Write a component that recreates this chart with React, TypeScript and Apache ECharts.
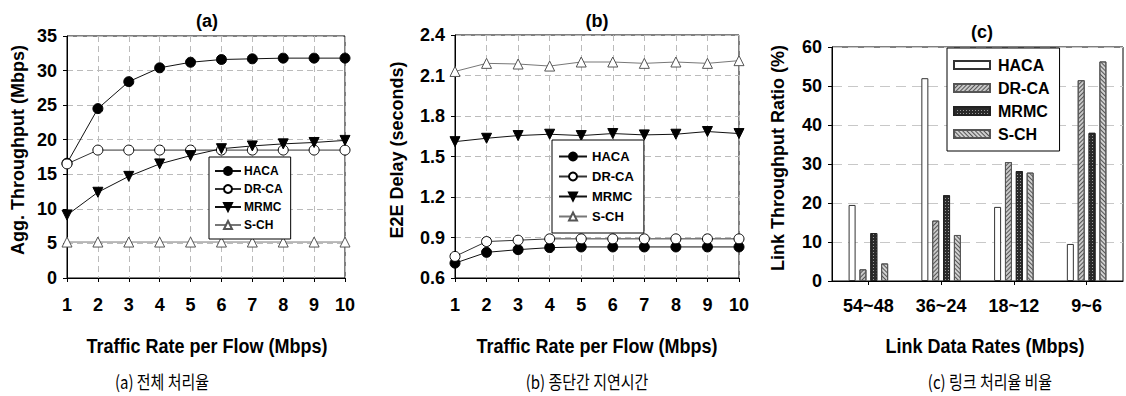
import React, { useEffect, useRef } from "react";
import * as echarts from "echarts";

// ---- data ----
const rates = ["1", "2", "3", "4", "5", "6", "7", "8", "9", "10"];
const thrHACA = [16.6, 24.5, 28.4, 30.4, 31.2, 31.6, 31.7, 31.8, 31.8, 31.8];
const thrDRCA = [16.5, 18.5, 18.5, 18.5, 18.5, 18.5, 18.5, 18.5, 18.5, 18.5];
const thrMRMC = [9.1, 12.4, 14.7, 16.5, 17.7, 18.7, 19.1, 19.4, 19.6, 19.9];
const thrSCH = [5.2, 5.2, 5.2, 5.2, 5.2, 5.2, 5.2, 5.2, 5.2, 5.2];

const delayHACA = [0.71, 0.79, 0.81, 0.825, 0.83, 0.83, 0.83, 0.83, 0.83, 0.83];
const delayDRCA = [0.76, 0.87, 0.88, 0.89, 0.89, 0.89, 0.89, 0.89, 0.89, 0.89];
const delayMRMC = [1.61, 1.635, 1.655, 1.665, 1.655, 1.67, 1.66, 1.665, 1.685, 1.67];
const delaySCH = [2.13, 2.19, 2.185, 2.17, 2.2, 2.2, 2.19, 2.2, 2.19, 2.21];

const linkRates = ["54~48", "36~24", "18~12", "9~6"];
const ratioHACA = [19.5, 52, 19, 9.5];
const ratioDRCA = [3, 15.5, 30.5, 51.5];
const ratioMRMC = [12.3, 22, 28.2, 38];
const ratioSCH = [4.5, 11.8, 27.8, 56.3];

const schemes = ["HACA", "DR-CA", "MRMC", "S-CH"];

const FONT = '"Liberation Sans", Arial, sans-serif';
const KFONT = '"Noto Sans CJK KR", sans-serif';

const lineStyles: Record<string, any> = {
  "HACA": { symbol: "circle", rotate: 0, fill: "#000", border: "#000", line: "#111" },
  "DR-CA": { symbol: "circle", rotate: 0, fill: "#fff", border: "#000", line: "#333" },
  "MRMC": { symbol: "triangle", rotate: 180, fill: "#000", border: "#000", line: "#111" },
  "S-CH": { symbol: "triangle", rotate: 0, fill: "#fff", border: "#555", line: "#777" },
};

function lineSeries(prefix: string, name: string, data: number[], idx: number) {
  const s = lineStyles[name];
  return {
    type: "line",
    name: prefix + ":" + name,
    data,
    xAxisIndex: idx,
    yAxisIndex: idx,
    symbol: s.symbol,
    symbolSize: 10,
    symbolRotate: s.rotate,
    lineStyle: { color: s.line, width: 1 },
    itemStyle: { color: s.fill, borderColor: s.border, borderWidth: 1 },
    z: 3,
  };
}

const barStyles: Record<string, any> = {
  "HACA": { color: "#fff", border: "#333", decal: null },
  "DR-CA": {
    color: "#c8c8c8",
    border: "#555",
    decal: { symbol: "rect", symbolSize: 1, color: "#555", dashArrayX: [1, 0], dashArrayY: [1, 2], rotation: -Math.PI / 4 },
  },
  "MRMC": {
    color: "#2a2a2a",
    border: "#222",
    decal: { symbol: "rect", symbolSize: 1, color: "#9a9a9a", dashArrayX: [1, 2], dashArrayY: [1, 2], rotation: 0 },
  },
  "S-CH": {
    color: "#d0d0d0",
    border: "#555",
    decal: { symbol: "rect", symbolSize: 1, color: "#555", dashArrayX: [1, 0], dashArrayY: [1, 2], rotation: Math.PI / 4 },
  },
};

function barSeries(name: string, data: number[]) {
  const s = barStyles[name];
  const itemStyle: any = { color: s.color, borderColor: s.border, borderWidth: 1 };
  if (s.decal) itemStyle.decal = s.decal;
  return {
    type: "bar",
    name: "c:" + name,
    data,
    xAxisIndex: 2,
    yAxisIndex: 2,
    barWidth: 7,
    barGap: "55%",
    itemStyle,
  };
}

const axisLabel = { color: "#000", fontSize: 18, fontWeight: "bold", fontFamily: FONT };
const axisLine = { show: true, lineStyle: { color: "#000", width: 1 } };
const axisTick = { show: true, length: 4, lineStyle: { color: "#000" } };
const dashed = { show: true, lineStyle: { color: "#bbb", type: [6, 4], width: 1 } };

function txt(x: number, y: number, text: string, font: string, rot = 0, sy = 1) {
  return {
    type: "text",
    x,
    y,
    rotation: rot,
    scaleY: sy,
    style: { text, font, fill: "#000", align: "center", verticalAlign: "middle" },
    z: 10,
  };
}

const option: any = {
  animation: false,
  backgroundColor: "#fff",
  grid: [
    { left: 67, top: 36, width: 278, height: 242, show: true, borderColor: "#000", borderWidth: 1 },
    { left: 455, top: 35, width: 284, height: 243, show: true, borderColor: "#000", borderWidth: 1 },
    { left: 832, top: 47, width: 291, height: 234, show: true, borderColor: "#000", borderWidth: 1 },
  ],
  xAxis: [
    { gridIndex: 0, type: "category", data: rates, boundaryGap: false, axisLine, axisTick, axisLabel: { ...axisLabel, margin: 18 }, splitLine: dashed },
    { gridIndex: 1, type: "category", data: rates, boundaryGap: false, axisLine, axisTick, axisLabel: { ...axisLabel, margin: 18 }, splitLine: dashed },
    { gridIndex: 2, type: "category", data: linkRates, axisLine, axisTick: { ...axisTick, alignWithLabel: true }, axisLabel: { ...axisLabel, margin: 16 }, splitLine: { show: false } },
  ],
  yAxis: [
    { gridIndex: 0, type: "value", min: 0, max: 35, interval: 5, axisLine, axisTick, axisLabel: { ...axisLabel, margin: 10 }, splitLine: dashed },
    { gridIndex: 1, type: "value", min: 0.6, max: 2.4, interval: 0.3, axisLine, axisTick, axisLabel: { ...axisLabel, margin: 10, formatter: (v: number) => v.toFixed(1) }, splitLine: dashed },
    { gridIndex: 2, type: "value", min: 0, max: 60, interval: 10, axisLine, axisTick, axisLabel: { ...axisLabel, margin: 10 }, splitLine: { show: true, lineStyle: { color: "#c8c8c8", type: [10, 6], width: 1 } } },
  ],
  legend: [
    {
      data: schemes.map((n) => "a:" + n),
      formatter: (n: string) => n.split(":")[1],
      orient: "vertical",
      left: 209,
      top: 157,
      itemWidth: 26,
      itemHeight: 10,
      itemGap: 6,
      padding: [8, 8, 8, 5],
      borderColor: "#000",
      borderWidth: 1,
      backgroundColor: "#fff",
      textStyle: { fontSize: 12, fontWeight: "bold", fontFamily: FONT, color: "#000", padding: [0, 0, 0, -2] },
      z: 20,
    },
    {
      data: schemes.map((n) => "b:" + n),
      formatter: (n: string) => n.split(":")[1],
      orient: "vertical",
      left: 552,
      top: 140,
      itemWidth: 28,
      itemHeight: 10,
      itemGap: 7,
      padding: [10, 10, 10, 6],
      borderColor: "#000",
      borderWidth: 1,
      backgroundColor: "#fff",
      textStyle: { fontSize: 13, fontWeight: "bold", fontFamily: FONT, color: "#000" },
      z: 20,
    },
    {
      data: schemes.map((n) => "c:" + n),
      formatter: (n: string) => n.split(":")[1],
      orient: "vertical",
      left: 947,
      top: 48,
      icon: "rect",
      itemWidth: 36,
      itemHeight: 8,
      itemGap: 7,
      padding: [9, 10, 9, 6],
      borderColor: "#000",
      borderWidth: 1,
      backgroundColor: "#fff",
      textStyle: { fontSize: 16, fontWeight: "bold", fontFamily: FONT, color: "#000", padding: [0, 0, 0, 3] },
      z: 20,
    },
  ],
  series: [
    lineSeries("a", "HACA", thrHACA, 0),
    lineSeries("a", "DR-CA", thrDRCA, 0),
    lineSeries("a", "MRMC", thrMRMC, 0),
    lineSeries("a", "S-CH", thrSCH, 0),
    lineSeries("b", "HACA", delayHACA, 1),
    lineSeries("b", "DR-CA", delayDRCA, 1),
    lineSeries("b", "MRMC", delayMRMC, 1),
    lineSeries("b", "S-CH", delaySCH, 1),
    barSeries("HACA", ratioHACA),
    barSeries("DR-CA", ratioDRCA),
    barSeries("MRMC", ratioMRMC),
    barSeries("S-CH", ratioSCH),
  ],
  graphic: [
    txt(207, 21, "(a)", `bold 18px ${FONT}`),
    txt(597, 21, "(b)", `bold 18px ${FONT}`),
    txt(982, 32, "(c)", `bold 18px ${FONT}`),
    txt(18, 150, "Agg. Throughput (Mbps)", `bold 18px ${FONT}`, Math.PI / 2),
    txt(397, 150, "E2E Delay (seconds)", `bold 18px ${FONT}`, Math.PI / 2),
    txt(778, 158, "Link Throughput Ratio (%)", `bold 18px ${FONT}`, Math.PI / 2),
    txt(207, 346, "Traffic Rate per Flow (Mbps)", `bold 18px ${FONT}`, 0, 1.1),
    txt(597, 346, "Traffic Rate per Flow (Mbps)", `bold 18px ${FONT}`, 0, 1.1),
    txt(985, 346, "Link Data Rates (Mbps)", `bold 18px ${FONT}`, 0, 1.1),
    txt(162, 381, "(a) 전체 처리율", `15px ${KFONT}`, 0, 1.2),
    txt(587, 381, "(b) 종단간 지연시간", `15px ${KFONT}`, 0, 1.2),
    txt(990, 381, "(c) 링크 처리율 비율", `15px ${KFONT}`, 0, 1.2),
  ],
};

export default function App() {
  const ref = useRef<HTMLDivElement>(null);
  useEffect(() => {
    const chart = echarts.init(ref.current!, null, { renderer: "svg" });
    chart.setOption(option);
    return () => chart.dispose();
  }, []);
  return (
    <div
      ref={ref}
      style={{ position: "fixed", left: 0, top: 0, width: 1126, height: 396, background: "#fff" }}
    />
  );
}
